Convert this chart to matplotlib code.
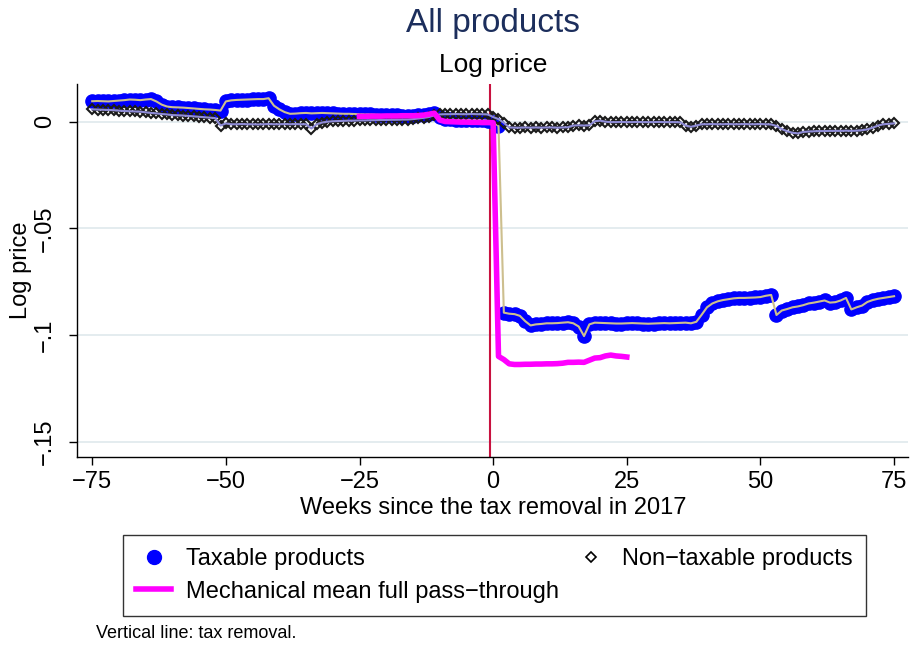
import numpy as np
import matplotlib
matplotlib.use("Agg")
import matplotlib.pyplot as plt
from matplotlib.lines import Line2D

plt.rcParams["font.family"] = ["Liberation Sans", "DejaVu Sans"]

# ---- data -------------------------------------------------------------
weeks = np.arange(-75, 76)

taxable = [
    0.0096, 0.0097, 0.0096, 0.0095, 0.0097, 0.0099, 0.0101, 0.0104, 0.0103, 0.0101,   # -75..-66
    0.0104, 0.0106, 0.0095, 0.0080, 0.0071, 0.0068, 0.0067, 0.0066, 0.0064, 0.0062,   # -65..-56
    0.0060, 0.0058, 0.0057, 0.0055, 0.0052, 0.0095, 0.0100, 0.0102, 0.0103, 0.0104,   # -55..-46
    0.0105, 0.0106, 0.0106, 0.0110, 0.0075, 0.0058, 0.0045, 0.0037, 0.0038, 0.0040,   # -45..-36
    0.0041, 0.0039, 0.0040, 0.0041, 0.0040, 0.0039, 0.0038, 0.0037, 0.0037, 0.0036,   # -35..-26
    0.0035, 0.0034, 0.0034, 0.0033, 0.0032, 0.0031, 0.0031, 0.0030, 0.0029, 0.0028,   # -25..-16
    0.0028, 0.0030, 0.0031, 0.0035, 0.0040, 0.0020, 0.0012, 0.0011, 0.0010, 0.0010,   # -15..-6
    0.0009, 0.0008, 0.0008, 0.0007, 0.0005, 0.0000, -0.0020, -0.0895, -0.0900, -0.0902,  # -5..4
    -0.0910, -0.0935, -0.0955, -0.0950, -0.0948, -0.0945, -0.0945, -0.0944, -0.0942, -0.0940,  # 5..14
    -0.0945, -0.0960, -0.1005, -0.0950, -0.0942, -0.0943, -0.0944, -0.0945, -0.0946, -0.0946,  # 15..24
    -0.0945, -0.0944, -0.0945, -0.0946, -0.0947, -0.0946, -0.0945, -0.0944, -0.0945, -0.0944,  # 25..34
    -0.0943, -0.0942, -0.0945, -0.0938, -0.0905, -0.0870, -0.0852, -0.0842, -0.0836, -0.0832,  # 35..44
    -0.0828, -0.0826, -0.0826, -0.0825, -0.0824, -0.0822, -0.0816, -0.0812, -0.0906, -0.0885,  # 45..54
    -0.0878, -0.0870, -0.0866, -0.0860, -0.0852, -0.0848, -0.0843, -0.0838, -0.0848, -0.0846,  # 55..64
    -0.0838, -0.0826, -0.0880, -0.0870, -0.0862, -0.0845, -0.0836, -0.0830, -0.0826, -0.0822,  # 65..74
    -0.0818,                                                                                   # 75
]

nontaxable = [
    0.0058, 0.0057, 0.0056, 0.0055, 0.0054, 0.0052, 0.0050, 0.0049, 0.0048, 0.0047,   # -75..-66
    0.0044, 0.0041, 0.0039, 0.0036, 0.0034, 0.0031, 0.0030, 0.0029, 0.0027, 0.0025,   # -65..-56
    0.0023, 0.0021, 0.0019, 0.0017, -0.0018, -0.0008, -0.0012, -0.0012, -0.0011, -0.0012,  # -55..-46
    -0.0012, -0.0013, -0.0012, -0.0011, -0.0012, -0.0012, -0.0011, -0.0012, -0.0011, -0.0012,  # -45..-36
    -0.0012, -0.0032, -0.0012, -0.0004, 0.0000, 0.0002, 0.0003, 0.0004, 0.0005, 0.0005,  # -35..-26
    0.0006, 0.0006, 0.0007, 0.0007, 0.0008, 0.0008, 0.0009, 0.0009, 0.0010, 0.0010,   # -25..-16
    0.0012, 0.0015, 0.0018, 0.0022, 0.0030, 0.0034, 0.0035, 0.0035, 0.0036, 0.0035,   # -15..-6
    0.0035, 0.0036, 0.0035, 0.0035, 0.0034, 0.0022, 0.0012, -0.0005, -0.0027, -0.0028,  # -5..4
    -0.0028, -0.0027, -0.0028, -0.0027, -0.0028, -0.0027, -0.0027, -0.0028, -0.0027, -0.0026,  # 5..14
    -0.0018, -0.0017, -0.0018, -0.0017, 0.0002, 0.0005, 0.0000, -0.0002, -0.0002, -0.0001,  # 15..24
    -0.0002, -0.0002, -0.0001, -0.0002, -0.0002, -0.0002, -0.0001, -0.0002, -0.0002, -0.0002,  # 25..34
    -0.0003, -0.0018, -0.0024, -0.0018, -0.0012, -0.0012, -0.0011, -0.0012, -0.0012, -0.0011,  # 35..44
    -0.0012, -0.0012, -0.0011, -0.0012, -0.0012, -0.0011, -0.0012, -0.0013, -0.0020, -0.0035,  # 45..54
    -0.0045, -0.0052, -0.0055, -0.0048, -0.0046, -0.0045, -0.0044, -0.0044, -0.0043, -0.0043,  # 55..64
    -0.0043, -0.0042, -0.0043, -0.0042, -0.0040, -0.0036, -0.0028, -0.0018, -0.0012, -0.0010,  # 65..74
    -0.0008,                                                                                   # 75
]

mech_weeks = np.arange(-25, 26)
mechanical = [
    0.0025, 0.0025, 0.0026, 0.0026, 0.0026, 0.0027, 0.0027, 0.0027, 0.0028, 0.0028,   # -25..-16
    0.0028, 0.0029, 0.0031, 0.0035, 0.0040, 0.0008, 0.0001, 0.0000, -0.0001, -0.0002,  # -15..-6
    -0.0002, -0.0003, -0.0003, -0.0004, -0.0004, -0.0005, -0.1100, -0.1115, -0.1135, -0.1138,  # -5..4
    -0.1138, -0.1137, -0.1137, -0.1136, -0.1136, -0.1135, -0.1135, -0.1134, -0.1132, -0.1128,  # 5..14
    -0.1128, -0.1127, -0.1128, -0.1118, -0.1108, -0.1106, -0.1098, -0.1094, -0.1098, -0.1100,  # 15..24
    -0.1103,                                                                                   # 25
]

removal_week = -0.5
xticks = [-75, -50, -25, 0, 25, 50, 75]
xtick_labels = ["\u221275", "\u221250", "\u221225", "0", "25", "50", "75"]
yticks = [0, -0.05, -0.10, -0.15]
ytick_labels = ["0", "\u2212.05", "\u2212.1", "\u2212.15"]

# ---- styling ----------------------------------------------------------
W, H = 911, 645
BLUE = "#0000ff"
TAN = "#cdbf8e"
LAVENDER = "#8e8bd6"
MAGENTA = "#ff00ff"
CRANBERRY = "#c8113f"
NAVY = "#1c2e5c"
GRID = "#e4ecef"
FS = 17


def fx(px):
    return px / W


def fy(py):
    return 1 - py / H


fig = plt.figure(figsize=(W / 100, H / 100), dpi=100)
ax = fig.add_axes([fx(76.7), fy(457), fx(908) - fx(76.7), fy(84) - fy(457)])

ax.set_xlim(-77.9, 77.6)
ax.set_ylim(-0.15717, 0.01767)

ax.set_yticks(yticks)
ax.set_yticklabels(ytick_labels, rotation=90, va="center")
ax.set_xticks(xticks)
ax.set_xticklabels(xtick_labels)
ax.yaxis.grid(True, color=GRID, lw=1.4)
ax.set_axisbelow(True)

for side in ("top", "right"):
    ax.spines[side].set_visible(False)
for side in ("left", "bottom"):
    ax.spines[side].set_color("black")
    ax.spines[side].set_linewidth(1.0)

ax.tick_params(axis="both", length=6, width=1.0, labelsize=FS, direction="out")
ax.tick_params(axis="x", pad=4)
ax.tick_params(axis="y", pad=9)

ax.axvline(removal_week, color=CRANBERRY, lw=1.5, zorder=2)

# taxable: blue markers with a thin khaki connecting line on top
ax.plot(weeks, taxable, ls="none", marker="o", ms=9.5, mfc=BLUE, mec=BLUE, zorder=3)
ax.plot(weeks, taxable, color=TAN, lw=1.5, zorder=4)

# non-taxable: hollow diamonds with lavender connecting line on top
ax.plot(weeks, nontaxable, ls="none", marker="D", ms=5.5, mfc="none",
        mec="#1a1a1a", mew=1.5, zorder=5)
ax.plot(weeks, nontaxable, color=LAVENDER, lw=1.5, zorder=6)

# mechanical full pass-through benchmark
ax.plot(mech_weeks, mechanical, color=MAGENTA, lw=4, zorder=7)

# ---- text -------------------------------------------------------------
fig.text(fx(493), fy(31.7), "All products", ha="center", va="baseline",
         fontsize=24, color=NAVY)
fig.text(fx(493), fy(71.7), "Log price", ha="center", va="baseline", fontsize=19)
fig.text(fx(493), fy(514), "Weeks since the tax removal in 2017", ha="center",
         va="baseline", fontsize=FS)
fig.text(fx(21), fy(270), "Log price", rotation=90, ha="center", va="center",
         fontsize=FS)
fig.text(fx(96), fy(638), "Vertical line: tax removal.", ha="left", va="baseline",
         fontsize=13)

handles = [
    Line2D([], [], ls="none", marker="o", ms=10, mfc=BLUE, mec=BLUE),
    Line2D([], [], color=MAGENTA, lw=4),
    Line2D([], [], ls="none", marker="D", ms=5, mfc="none", mec="black", mew=1.2),
]
labels = ["Taxable products", "Mechanical mean full pass\u2212through",
          "Non\u2212taxable products"]
leg = fig.legend(handles, labels, ncol=2, loc="upper left",
                 bbox_to_anchor=(fx(123), fy(535), fx(866) - fx(123), 0.0),
                 bbox_transform=fig.transFigure, mode="expand", frameon=True,
                 fancybox=False, edgecolor="black", fontsize=FS,
                 handlelength=1.5, handletextpad=0.6, borderpad=0.55,
                 labelspacing=0.45, borderaxespad=0, columnspacing=1.0)
leg.get_frame().set_linewidth(1.0)

fig.savefig("out.png", dpi=100, facecolor="white")
